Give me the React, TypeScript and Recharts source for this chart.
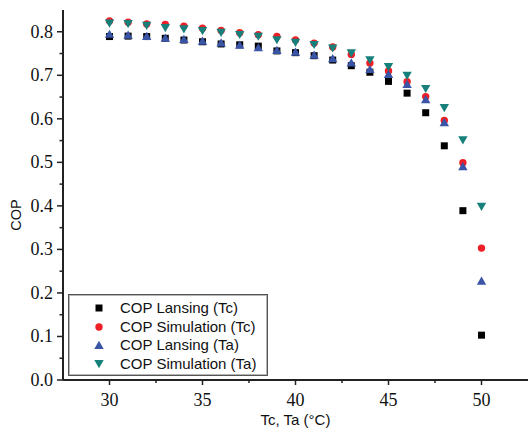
import React from 'react';
import { ScatterChart, Scatter, XAxis, YAxis } from 'recharts';

const temps = [30, 31, 32, 33, 34, 35, 36, 37, 38, 39, 40, 41, 42, 43, 44, 45, 46, 47, 48, 49, 50];
const lansingTc = [0.789, 0.790, 0.789, 0.785, 0.781, 0.777, 0.772, 0.770, 0.767, 0.756, 0.752, 0.745, 0.735, 0.722, 0.707, 0.686, 0.659, 0.614, 0.538, 0.389, 0.103];
const simulationTc = [0.825, 0.822, 0.818, 0.817, 0.813, 0.808, 0.803, 0.798, 0.793, 0.789, 0.781, 0.774, 0.765, 0.748, 0.728, 0.710, 0.685, 0.651, 0.596, 0.499, 0.303];
const lansingTa = [0.795, 0.793, 0.790, 0.786, 0.783, 0.779, 0.775, 0.770, 0.764, 0.758, 0.754, 0.747, 0.739, 0.729, 0.714, 0.703, 0.680, 0.645, 0.592, 0.491, 0.228];
const simulationTa = [0.819, 0.818, 0.814, 0.809, 0.806, 0.802, 0.798, 0.793, 0.789, 0.781, 0.775, 0.770, 0.762, 0.751, 0.735, 0.719, 0.699, 0.669, 0.625, 0.551, 0.398];

const seriesNames = ['COP Lansing (Tc)', 'COP Simulation (Tc)', 'COP Lansing (Ta)', 'COP Simulation (Ta)'];
const seriesColors = ['#000000', '#ee1f26', '#3a54a6', '#17807a'];
const seriesShapes = ['square', 'circle', 'up', 'down'];
const seriesValues = [lansingTc, simulationTc, lansingTa, simulationTa];

const xTicks = [30, 32.5, 35, 37.5, 40, 42.5, 45, 47.5, 50];
const yTicks = [0, 0.05, 0.1, 0.15, 0.2, 0.25, 0.3, 0.35, 0.4, 0.45, 0.5, 0.55, 0.6, 0.65, 0.7, 0.75, 0.8];
const rightTicks = [0.085, 0.17, 0.255, 0.34, 0.425, 0.51, 0.595, 0.68, 0.765];
const topTicks = [30, 32.5, 35, 37.5, 40, 42.5, 45, 47.5, 50];

const AXIS = '#222';
const SANS = "'Liberation Sans', Arial, sans-serif";
const SERIF = 'Liberation Serif';

const makeData = (vals: number[]) => temps.map((t, i) => ({ x: t, y: vals[i] }));

function Marker({ kind, cx, cy, color }: { kind: string; cx: number; cy: number; color: string }) {
  if (kind === 'square') return <rect x={cx - 3.5} y={cy - 3.5} width={7} height={7} fill={color} />;
  if (kind === 'circle') return <circle cx={cx} cy={cy} r={3.7} fill={color} />;
  if (kind === 'up')
    return <polygon points={`${cx},${cy - 4.3} ${cx - 4.7},${cy + 3.9} ${cx + 4.7},${cy + 3.9}`} fill={color} />;
  return <polygon points={`${cx - 4.7},${cy - 3.9} ${cx + 4.7},${cy - 3.9} ${cx},${cy + 4.3}`} fill={color} />;
}

const renderBottomTick = (props: any) => {
  const { x, y, payload } = props;
  const major = Math.abs(payload.value % 5) < 1e-6;
  return (
    <g>
      <line x1={x} x2={x} y1={y} y2={y + (major ? 5 : 3)} stroke={AXIS} strokeWidth={1.5} />
      {major && (
        <text x={x} y={y + 26} textAnchor="middle" fontFamily={SERIF} fontSize={18} fill="#111">
          {String(payload.value)}
        </text>
      )}
    </g>
  );
};

const renderLeftTick = (props: any) => {
  const { x, y, payload } = props;
  const major = Math.round(payload.value * 100) % 10 === 0;
  return (
    <g>
      <line x1={x} x2={x - (major ? 6 : 3.5)} y1={y} y2={y} stroke={AXIS} strokeWidth={1.5} />
      {major && (
        <text x={x - 10} y={y + 6} textAnchor="end" fontFamily={SERIF} fontSize={18} fill="#111">
          {payload.value.toFixed(1)}
        </text>
      )}
    </g>
  );
};

const renderTopTick = (props: any) => {
  const { x, y, index } = props;
  const long = index % 2 === 1;
  return <line x1={x} x2={x} y1={y} y2={y + (long ? 7 : 4)} stroke={AXIS} strokeWidth={1.5} />;
};

const renderRightTick = (props: any) => {
  const { x, y, index } = props;
  const long = index % 2 === 1;
  return <line x1={x} x2={x - (long ? 7 : 4)} y1={y} y2={y} stroke={AXIS} strokeWidth={1.5} />;
};

function LegendBox() {
  return (
    <div
      style={{
        position: 'absolute',
        left: 68,
        top: 294,
        width: 200,
        height: 82,
        boxSizing: 'border-box',
        border: '1px solid #555',
        boxShadow: 'inset 0 0 0 1px #b5b5b5',
        background: '#fff',
      }}
    >
      {seriesNames.map((name, i) => (
        <div
          key={name}
          style={{
            position: 'absolute',
            left: 0,
            top: 13 + i * 18.7 - 9,
            height: 18,
            width: 200,
          }}
        >
          <svg width={14} height={14} style={{ position: 'absolute', left: 23, top: 2 }}>
            <Marker kind={seriesShapes[i]} cx={7} cy={7} color={seriesColors[i]} />
          </svg>
          <span
            style={{
              position: 'absolute',
              left: 51,
              top: 0,
              lineHeight: '18px',
              fontFamily: SANS,
              fontSize: 15,
              color: '#111',
              whiteSpace: 'nowrap',
            }}
          >
            {name}
          </span>
        </div>
      ))}
    </div>
  );
}

export default function App() {
  return (
    <div style={{ position: 'absolute', left: 0, top: 0, width: 529, height: 429 }}>
      <ScatterChart width={529} height={429} margin={{ top: 10, right: 1, bottom: 0, left: 0 }}>
        <XAxis
          xAxisId="b"
          type="number"
          dataKey="x"
          domain={[27.5, 52.5]}
          ticks={xTicks}
          interval={0}
          allowDataOverflow
          height={49}
          tickLine={false}
          tickSize={0}
          tickMargin={0}
          tick={renderBottomTick}
          axisLine={{ stroke: AXIS, strokeWidth: 2 }}
          label={{
            content: (p: any) => (
              <text
                x={p.viewBox.x + p.viewBox.width / 2}
                y={p.viewBox.y + 45}
                textAnchor="middle"
                fontFamily="Liberation Sans"
                fontSize={15}
                fill="#111"
              >
                Tc, Ta (°C)
              </text>
            ),
          }}
        />
        <XAxis
          xAxisId="t"
          orientation="top"
          type="number"
          domain={[27.5, 52.5]}
          ticks={topTicks}
          interval={0}
          allowDataOverflow
          height={0}
          tickLine={false}
          tickSize={0}
          tickMargin={0}
          tick={renderTopTick}
          axisLine={{ stroke: AXIS, strokeWidth: 2 }}
        />
        <YAxis
          yAxisId="l"
          type="number"
          dataKey="y"
          domain={[0, 0.85]}
          ticks={yTicks}
          interval={0}
          allowDataOverflow
          width={63}
          tickLine={false}
          tickSize={0}
          tickMargin={0}
          tick={renderLeftTick}
          axisLine={{ stroke: AXIS, strokeWidth: 2 }}
          label={{
            content: () => (
              <text
                x={16}
                y={215}
                transform="rotate(-90, 16, 215)"
                textAnchor="middle"
                dominantBaseline="central"
                fontFamily="Liberation Sans"
                fontSize={14.5}
                fill="#111"
              >
                COP
              </text>
            ),
          }}
        />
        <YAxis
          yAxisId="r"
          orientation="right"
          type="number"
          domain={[0, 0.85]}
          ticks={rightTicks}
          interval={0}
          allowDataOverflow
          width={0}
          tickLine={false}
          tickSize={0}
          tickMargin={0}
          tick={renderRightTick}
          axisLine={{ stroke: AXIS, strokeWidth: 2 }}
        />
        {seriesValues.map((vals, i) => (
          <Scatter
            key={seriesNames[i]}
            name={seriesNames[i]}
            xAxisId="b"
            yAxisId="l"
            data={makeData(vals)}
            fill={seriesColors[i]}
            isAnimationActive={false}
            shape={(p: any) => <Marker kind={seriesShapes[i]} cx={p.cx} cy={p.cy} color={seriesColors[i]} />}
          />
        ))}
      </ScatterChart>
      <LegendBox />
    </div>
  );
}
